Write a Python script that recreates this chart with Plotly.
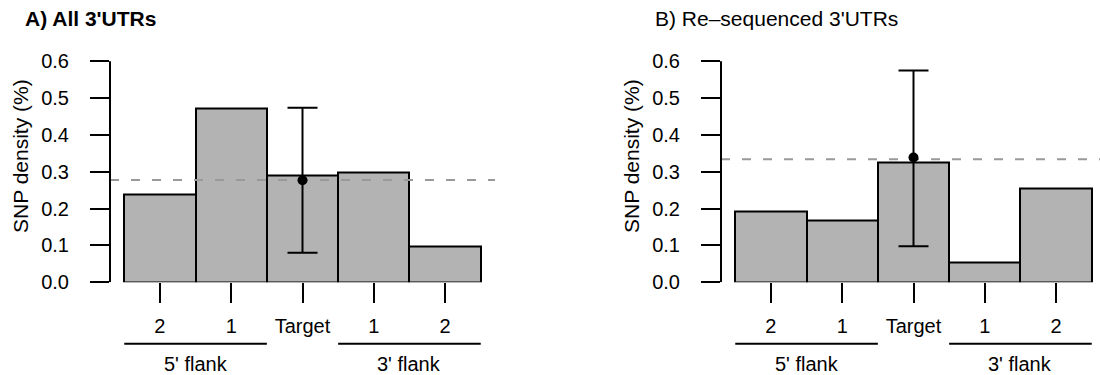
import plotly.graph_objects as go

# Bin labels along the x axis (5' flank bins, target, 3' flank bins)
bin_labels = ["2", "1", "Target", "1", "2"]
bin_pos = [0, 1, 2, 3, 4]

# SNP density (%) per bin
all_density = [0.239, 0.472, 0.291, 0.297, 0.098]
reseq_density = [0.193, 0.168, 0.324, 0.055, 0.256]

# Target estimate with its interval, and genome-wide reference level
all_target = [0.277]
all_low = [0.080]
all_high = [0.474]
all_ref = 0.278

reseq_target = [0.339]
reseq_low = [0.098]
reseq_high = [0.575]
reseq_ref = 0.334

y_ticks = [0.0, 0.1, 0.2, 0.3, 0.4, 0.5, 0.6]
y_ticktext = ["0.0", "0.1", "0.2", "0.3", "0.4", "0.5", "0.6"]

panel_titles = ["A) All 3'UTRs", "B) Re\u2013sequenced 3'UTRs"]
group_labels = ["5' flank", "3' flank"]

W, H = 1100, 375
FONT = "Liberation Sans, Arial, Helvetica, sans-serif"
BAR_FILL = "#b3b3b3"
TICK_SIZE = 20
TITLE_SIZE = 21


def px_x(p):
    return p / W


def px_y(p):
    return (H - p) / H


# one data unit of the x axis spans ~71.3 px in both panels
unit = 385 / 5.4
x_ranges = [[-0.7, 4.7], [-0.7, -0.7 + (W - 721) / unit]]

fig = go.Figure()

panels = [
    ("x", "y", all_density, all_target, all_low, all_high, all_ref),
    ("x2", "y2", reseq_density, reseq_target, reseq_low, reseq_high, reseq_ref),
]

for i, (xa, ya, dens, tgt, lo, hi, ref) in enumerate(panels):
    fig.add_trace(go.Bar(
        x=bin_pos, y=dens, width=1,
        marker=dict(color=BAR_FILL, line=dict(color="black", width=2)),
        xaxis=xa, yaxis=ya, showlegend=False, hoverinfo="skip",
    ))
    # reference level across the whole panel
    fig.add_trace(go.Scatter(
        x=x_ranges[i], y=[ref, ref], mode="lines",
        line=dict(color="#999999", width=2, dash="9px,12px"),
        xaxis=xa, yaxis=ya, showlegend=False, hoverinfo="skip", cliponaxis=False,
    ))
    fig.add_trace(go.Scatter(
        x=[2], y=tgt, mode="markers",
        marker=dict(color="black", size=10),
        error_y=dict(type="data", symmetric=False,
                     array=[hi[0] - tgt[0]], arrayminus=[tgt[0] - lo[0]],
                     color="black", thickness=2, width=15),
        xaxis=xa, yaxis=ya, showlegend=False, hoverinfo="skip",
    ))

x_common = dict(
    tickmode="array", tickvals=bin_pos, ticktext=bin_labels,
    ticks="outside", ticklen=20, tickwidth=2, tickcolor="black",
    showline=False, showgrid=False, zeroline=False, automargin=False,
    tickfont=dict(family=FONT, size=TICK_SIZE, color="black"),
    ticklabelstandoff=6, fixedrange=True,
)
y_common = dict(
    range=[0, 0.7], tickmode="array", tickvals=y_ticks, ticktext=y_ticktext,
    ticks="outside", ticklen=19, tickwidth=2, tickcolor="black",
    showline=False, showgrid=False, zeroline=False, automargin=False,
    tickfont=dict(family=FONT, size=TICK_SIZE, color="black"),
    ticklabelstandoff=17, fixedrange=True,
    domain=[px_y(282.3), px_y(24.5)],
)

fig.update_layout(
    width=W, height=H,
    margin=dict(l=0, r=0, t=0, b=0, pad=0),
    paper_bgcolor="white", plot_bgcolor="white",
    bargap=0,
    xaxis=dict(domain=[px_x(110), px_x(495)], range=x_ranges[0], anchor="y", **x_common),
    xaxis2=dict(domain=[px_x(721), 1.0], range=x_ranges[1], anchor="y2", **x_common),
    yaxis=dict(anchor="x", **y_common),
    yaxis2=dict(anchor="x2", **y_common),
)

shapes = []
annotations = []
offsets = [0, 611]
title_x = [23, 653]
title_bold = [True, False]
for i, (xa, ya, dens, tgt, lo, hi, ref) in enumerate(panels):
    xd = ("x" if i == 0 else "x2") + " domain"
    # left axis line spanning 0 to 0.6
    shapes.append(dict(type="line", xref=xd, yref=ya, x0=0, x1=0, y0=0, y1=0.6,
                       line=dict(color="black", width=2)))
    # flank group underlines
    for (a, b), lab in zip([(-0.5, 1.5), (2.5, 4.5)], group_labels):
        shapes.append(dict(type="line", xref=xa, yref="paper", x0=a, x1=b,
                           y0=px_y(343.7), y1=px_y(343.7),
                           line=dict(color="black", width=2)))
        annotations.append(dict(text=lab, xref=xa, yref="paper", x=(a + b) / 2,
                                y=px_y(364), xanchor="center", yanchor="middle",
                                showarrow=False,
                                font=dict(family=FONT, size=TICK_SIZE, color="black")))
    # y axis title
    annotations.append(dict(text="SNP density (%)", xref="paper", yref="paper",
                            x=px_x(20 + offsets[i]), y=px_y(156), textangle=-90,
                            xanchor="center", yanchor="middle", showarrow=False,
                            font=dict(family=FONT, size=21, color="black")))
    # panel title
    t = panel_titles[i]
    annotations.append(dict(text=f"<b>{t}</b>" if title_bold[i] else t,
                            xref="paper", yref="paper",
                            x=px_x(title_x[i]), y=px_y(18), xanchor="left", yanchor="middle",
                            showarrow=False,
                            font=dict(family=FONT, size=TITLE_SIZE, color="black")))

fig.update_layout(shapes=shapes, annotations=annotations)
fig.write_html("out.html")
